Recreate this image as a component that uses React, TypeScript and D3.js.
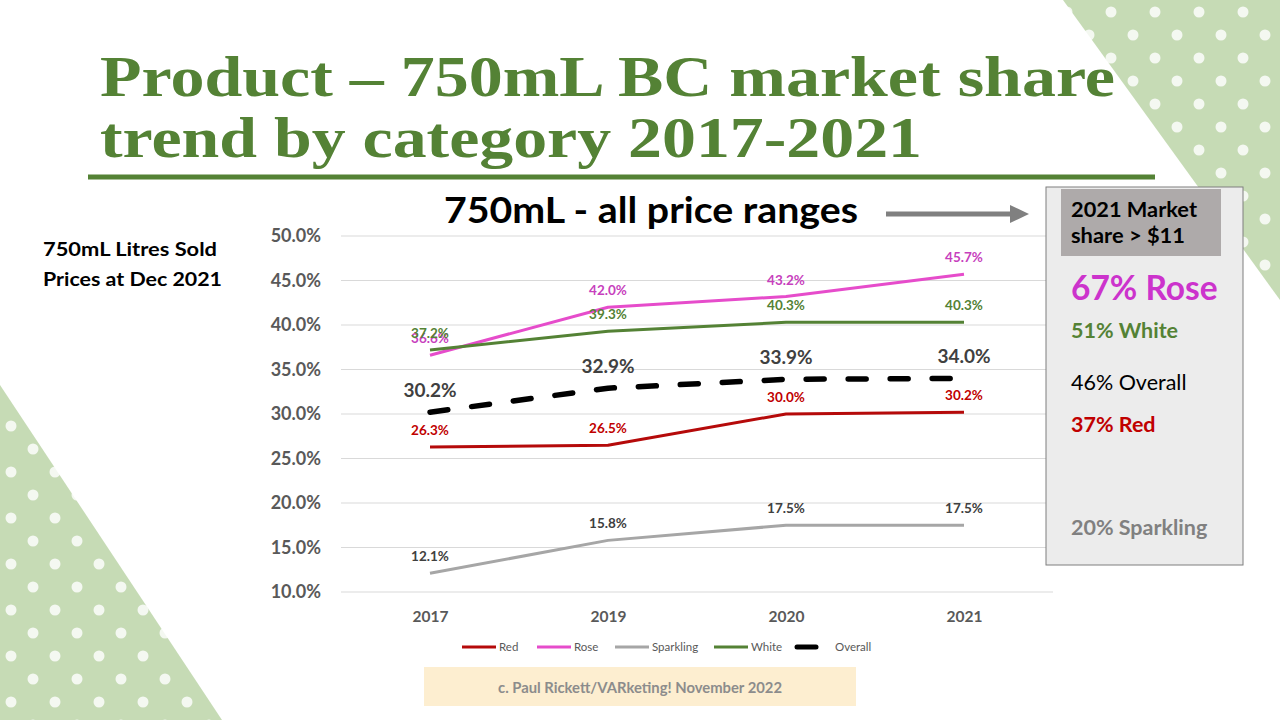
import React, { useRef, useEffect } from "react";
import * as d3 from "d3";

// 750mL BC market share by category (% of litres sold)
const years = ["2017", "2019", "2020", "2021"];
const red = [26.3, 26.5, 30.0, 30.2];
const rose = [36.6, 42.0, 43.2, 45.7];
const sparkling = [12.1, 15.8, 17.5, 17.5];
const white = [37.2, 39.3, 40.3, 40.3];
const overall = [30.2, 32.9, 33.9, 34.0];
const yTicks = [10, 15, 20, 25, 30, 35, 40, 45, 50];

// 2021 share of sales above $11
const shareNames = ["Rose", "White", "Overall", "Red", "Sparkling"];
const shareValues = [67, 51, 46, 37, 20];

const FONT = "Lato, 'Open Sans', sans-serif";

export default function App() {
  const svgRef = useRef<SVGSVGElement>(null);

  useEffect(() => {
    const svg = d3.select(svgRef.current);
    svg.selectAll("*").remove();

    const W = 1280;
    const H = 720;
    svg.attr("width", W).attr("height", H);

    // background decoration
    const defs = svg.append("defs");
    const pat = defs
      .append("pattern")
      .attr("id", "dots")
      .attr("patternUnits", "userSpaceOnUse")
      .attr("width", 44)
      .attr("height", 46);
    pat.append("rect").attr("width", 44).attr("height", 46).attr("fill", "#c6dbb5");
    pat.append("circle").attr("cx", 11).attr("cy", 12).attr("r", 5.5).attr("fill", "#f4f8f1");
    pat.append("circle").attr("cx", 33).attr("cy", 35).attr("r", 5.5).attr("fill", "#f4f8f1");

    svg.append("rect").attr("width", W).attr("height", H).attr("fill", "#ffffff");
    svg.append("polygon").attr("points", "1063,0 1280,0 1280,300").attr("fill", "url(#dots)");
    svg.append("polygon").attr("points", "0,385 222,720 0,720").attr("fill", "url(#dots)");

    // title
    const green = "#548235";
    const title = svg
      .append("text")
      .attr("font-family", "'Liberation Serif', serif")
      .attr("font-weight", "bold")
      .attr("font-size", 58)
      .attr("fill", green);
    title
      .append("tspan")
      .attr("x", 100)
      .attr("y", 96)
      .attr("textLength", 1015)
      .attr("lengthAdjust", "spacingAndGlyphs")
      .text("Product – 750mL BC market share");
    title
      .append("tspan")
      .attr("x", 100)
      .attr("y", 157)
      .attr("textLength", 822)
      .attr("lengthAdjust", "spacingAndGlyphs")
      .text("trend by category 2017-2021");
    svg
      .append("line")
      .attr("x1", 88)
      .attr("x2", 1155)
      .attr("y1", 177)
      .attr("y2", 177)
      .attr("stroke", green)
      .attr("stroke-width", 5);

    // subtitle + arrow
    svg
      .append("text")
      .attr("x", 444)
      .attr("y", 223)
      .attr("font-family", FONT)
      .attr("font-weight", "bold")
      .attr("font-size", 37)
      .attr("textLength", 414)
      .attr("lengthAdjust", "spacingAndGlyphs")
      .attr("fill", "#000")
      .text("750mL - all price ranges");
    svg.append("line").attr("x1", 886).attr("x2", 1012).attr("y1", 214).attr("y2", 214)
      .attr("stroke", "#808080").attr("stroke-width", 5);
    svg.append("polygon").attr("points", "1010,205 1029,214 1010,223").attr("fill", "#808080");

    // left note
    const note = svg.append("text").attr("font-family", FONT).attr("font-weight", "bold")
      .attr("font-size", 19).attr("fill", "#000");
    note.append("tspan").attr("x", 43).attr("y", 256).attr("textLength", 174).attr("lengthAdjust", "spacingAndGlyphs").text("750mL Litres Sold");
    note.append("tspan").attr("x", 43).attr("y", 286).attr("textLength", 179).attr("lengthAdjust", "spacingAndGlyphs").text("Prices at Dec 2021");

    // scales
    const x = d3.scalePoint<string>().domain(years).range([341, 1053]).padding(0.5);
    const y = d3.scaleLinear().domain([10, 50]).range([592, 236]);

    // grid
    svg.append("g")
      .selectAll("line")
      .data(yTicks)
      .join("line")
      .attr("x1", 341)
      .attr("x2", 1053)
      .attr("y1", (d) => y(d))
      .attr("y2", (d) => y(d))
      .attr("stroke", "#d9d9d9")
      .attr("stroke-width", 1);

    // axes
    const yAxis = svg
      .append("g")
      .attr("transform", "translate(341,0)")
      .call(d3.axisLeft(y).tickValues(yTicks).tickSize(0).tickPadding(20).tickFormat((d) => `${(+d).toFixed(1)}%`));
    const xAxis = svg
      .append("g")
      .attr("transform", "translate(0,592)")
      .call(d3.axisBottom(x).tickSize(0).tickPadding(19));
    [yAxis, xAxis].forEach((g) => {
      g.select(".domain").remove();
      g.selectAll("text")
        .attr("font-family", FONT)
        .attr("font-weight", "bold")
        .attr("fill", "#595959");
    });
    yAxis.selectAll("text").attr("font-size", 18);
    xAxis.selectAll("text").attr("font-size", 15.5);

    // series
    const series = [
      { name: "Red", values: red, color: "#b50a0a", label: "#c00000", width: 3, dash: null, size: 13.5, off: 12 },
      { name: "Rose", values: rose, color: "#e64ccb", label: "#c73fbd", width: 3, dash: null, size: 13.5, off: 12 },
      { name: "Sparkling", values: sparkling, color: "#a6a6a6", label: "#404040", width: 3, dash: null, size: 13.5, off: 12 },
      { name: "White", values: white, color: "#548235", label: "#548235", width: 3, dash: null, size: 13.5, off: 12 },
      { name: "Overall", values: overall, color: "#000000", label: "#404040", width: 5.5, dash: "18,24", size: 19, off: 15 },
    ];

    const line = d3
      .line<number>()
      .x((_, i) => x(years[i]) as number)
      .y((d) => y(d));

    series.forEach((s) => {
      svg
        .append("path")
        .datum(s.values)
        .attr("d", line)
        .attr("fill", "none")
        .attr("stroke", s.color)
        .attr("stroke-width", s.width)
        .attr("stroke-dasharray", s.dash)
        .attr("stroke-linecap", s.dash ? "round" : "butt")
        .attr("stroke-linejoin", "round");
    });

    series.forEach((s) => {
      svg
        .append("g")
        .selectAll("text")
        .data(s.values)
        .join("text")
        .attr("x", (_, i) => x(years[i]) as number)
        .attr("y", (d) => y(d) - s.off)
        .attr("text-anchor", "middle")
        .attr("font-family", FONT)
        .attr("font-weight", "bold")
        .attr("font-size", s.size)
        .attr("fill", s.label)
        .text((d) => `${d.toFixed(1)}%`);
    });

    // legend
    const legendX = [462, 537, 615, 714, 797];
    const leg = svg.append("g");
    series.forEach((s, i) => {
      const lx = legendX[i];
      const isOverall = s.dash !== null;
      leg.append("line")
        .attr("x1", lx)
        .attr("x2", isOverall ? lx + 19 : lx + 34)
        .attr("y1", 647)
        .attr("y2", 647)
        .attr("stroke", s.color)
        .attr("stroke-width", isOverall ? 5 : 3)
        .attr("stroke-linecap", isOverall ? "round" : "butt");
      leg.append("text")
        .attr("x", isOverall ? lx + 38 : lx + 37)
        .attr("y", 651)
        .attr("font-family", FONT)
        .attr("font-size", 11.5)
        .attr("fill", "#595959")
        .text(s.name);
    });

    // credit box
    svg.append("rect").attr("x", 424).attr("y", 667).attr("width", 432).attr("height", 39).attr("fill", "#fdeed0");
    svg.append("text")
      .attr("x", 640)
      .attr("y", 693)
      .attr("text-anchor", "middle")
      .attr("font-family", FONT)
      .attr("font-weight", "bold")
      .attr("font-size", 14.8)
      .attr("fill", "#8c8c8c")
      .text("c. Paul Rickett/VARketing! November 2022");

    // right panel
    svg.append("rect").attr("x", 1046).attr("y", 187).attr("width", 197).attr("height", 378)
      .attr("fill", "#ececec").attr("stroke", "#7f7f7f").attr("stroke-width", 1);
    svg.append("rect").attr("x", 1061).attr("y", 189).attr("width", 160).attr("height", 67).attr("fill", "#aeaaaa");
    const hdr = svg.append("text").attr("font-family", FONT).attr("font-weight", "bold")
      .attr("font-size", 20).attr("fill", "#000");
    hdr.append("tspan").attr("x", 1071).attr("y", 217).attr("textLength", 126).attr("lengthAdjust", "spacingAndGlyphs").text("2021 Market");
    hdr.append("tspan").attr("x", 1071).attr("y", 243).attr("textLength", 114).attr("lengthAdjust", "spacingAndGlyphs").text("share > $11");

    const panel = [
      { color: "#cc33cc", size: 33.5, weight: "bold", y: 300 },
      { color: "#548235", size: 21.5, weight: "bold", y: 338 },
      { color: "#000000", size: 21.5, weight: "normal", y: 390 },
      { color: "#c00000", size: 21.5, weight: "bold", y: 432 },
      { color: "#808080", size: 21.5, weight: "bold", y: 535 },
    ];
    shareNames.forEach((n, i) => {
      svg.append("text")
        .attr("x", 1071)
        .attr("y", panel[i].y)
        .attr("font-family", FONT)
        .attr("font-weight", panel[i].weight)
        .attr("font-size", panel[i].size)
        .attr("fill", panel[i].color)
        .text(`${shareValues[i]}% ${n}`);
    });
  }, []);

  return <svg ref={svgRef} style={{ position: "absolute", left: 0, top: 0 }} />;
}
